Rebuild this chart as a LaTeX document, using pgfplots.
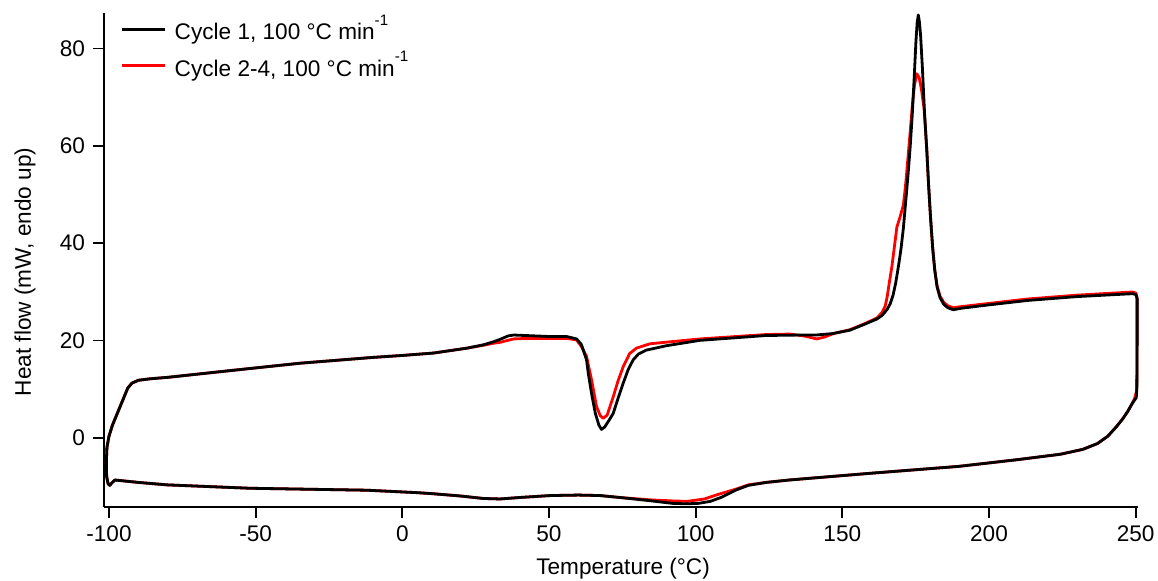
\documentclass[border=0pt]{standalone}
\usepackage{fontspec}
\setmainfont{Liberation Sans}
\usepackage{pgfplots}
\pgfplotsset{compat=1.18}
\newcommand{\supx}[1]{\raisebox{7.3pt}{\fontsize{7.6}{8}\selectfont #1}}
\begin{document}
\fontsize{11.3}{13.6}\selectfont
\begin{tikzpicture}[font=\fontsize{11.3}{13.6}\selectfont]
\useasboundingbox (-52pt,-37pt) rectangle (527pt,253.5pt);
\begin{axis}[
 at={(0,0)}, anchor=south west,
 scale only axis, width=517pt, height=247pt,
 xmin=-101.7, xmax=250.8, ymin=-14.25, ymax=87.3,
 clip=false,
 axis x line=bottom, axis y line=left,
 axis line style={-, line width=0.85pt},
 tick align=outside, major tick length=5.5pt,
 tick style={line width=0.85pt, black},
 xtick={-100,-50,0,50,100,150,200,250}, xticklabels={-100,-50,0,50,100,150,200,250},
 ytick={0,20,40,60,80}, yticklabels={0,20,40,60,80},
 minor tick num=0,
 xlabel={Temperature (°C)}, ylabel={Heat flow (mW, endo up)},
 xlabel style={at={(axis description cs:0.502,-0.125)}, anchor=center},
 ylabel style={at={(axis description cs:-0.0764,0.476)}, anchor=center},
 legend style={draw=none, fill=none, at={(axis description cs:0.016,1.003)}, anchor=north west, inner sep=0pt, row sep=1pt, column sep=2.5pt, nodes={inner sep=1.5pt}},
 legend cell align=left,
 legend image code/.code={\draw[#1, line width=1.4pt] (0pt,0pt) -- (21.5pt,0pt);},
]
% red: cycles 2-4
\addplot[red, line width=1.4pt, line join=round, forget plot] coordinates {
(-100.8,-8.0) (-100.9,-5) (-100.7,-2) (-100.0,0.3) (-98.8,2.6) (-96.2,6.4) (-93.6,10.2) (-92.2,11.2) (-90.0,11.8) (-86,12.1) (-80,12.4) (-60,13.7) (-35,15.3) (-10,16.5) (0,16.9) (10.7,17.4) (22,18.4) (27.7,19.0) (31,19.4) (33.3,19.6) (36,20.0) (38,20.3) (42,20.4) (50,20.4) (56,20.4) (59.4,20.1) (61.1,18.7) (62.8,16.7) (64.5,11.9) (66.2,6.4) (67.5,4.5) (68.5,4.0) (69.8,4.6) (71.9,8.4) (73.5,11.6) (75.3,14.6) (77.5,17.3) (79.8,18.4) (84.4,19.3) (101.4,20.3) (124,21.2) (132,21.3) (137,20.9) (141.3,20.3) (144,20.7) (147,21.4) (152.6,22.2) (157.5,23.4) (161.8,24.6) (163.5,25.7) (164.6,27.0) (165.3,29.0) (166.0,31.8) (166.9,35.2) (167.8,39.5) (168.6,43.3) (169.7,45.4) (170.8,47.8) (171.5,51.5) (172.3,57) (173.1,62.6) (173.9,68.5) (174.6,72.5) (175.4,74.8) (176.2,74.0) (177.0,71.5) (177.9,67.5) (178.8,59.2) (179.4,52) (180.1,45) (180.8,39) (181.5,34.5) (182.3,31.2) (183.3,29.1) (184.6,27.8) (186,27.1) (187.8,26.7) (190,26.9) (200,27.6) (213,28.5) (230,29.3) (249,29.95) (250.1,29.7) (250.5,28.8) (250.5,20) (250.4,11) (250.3,9.5) (249.6,8.0) (248.6,6.8) (247.3,5.4) (245.5,3.8) (243.5,2.3) (240.5,0.3) (237,-1.2) (232,-2.4) (224.4,-3.4) (210,-4.5) (189.7,-5.9) (160,-7.3) (131.9,-8.7) (124,-9.2) (118,-9.7) (113.6,-10.6) (108,-11.6) (103,-12.6) (97,-13.1) (92,-13.0) (85,-12.8) (74.2,-12.3) (67.4,-11.9) (60,-11.8) (50.4,-11.9) (40,-12.3) (33.3,-12.6) (27.6,-12.5) (20,-12.0) (10,-11.5) (4.9,-11.3) (-12.1,-10.8) (-51.9,-10.4) (-80.3,-9.7) (-90,-9.2) (-98.0,-8.7) (-99.2,-9.4) (-99.7,-9.8) (-100.3,-9.5) (-100.8,-8.0)
};
% black: cycle 1
\addplot[black, line width=1.4pt, line join=round, forget plot] coordinates {
(-100.8,-8.0) (-100.9,-5) (-100.7,-2) (-100.0,0.3) (-98.8,2.6) (-96.2,6.4) (-93.6,10.2) (-92.2,11.2) (-90.0,11.8) (-86,12.1) (-80,12.4) (-60,13.7) (-35,15.3) (-10,16.5) (0,16.9) (10.7,17.4) (22,18.4) (27.7,19.1) (31,19.7) (33.3,20.2) (36,20.9) (38,21.1) (42,21.0) (50,20.8) (56,20.8) (59.4,20.3) (61,19.2) (61.7,18.0) (62.8,16.0) (63.4,13.2) (64.5,9.1) (65.8,5.0) (67,2.6) (67.9,1.7) (69,2.2) (70.5,3.6) (71.9,5.0) (73.5,8.0) (75.3,11.2) (77,14.0) (78.7,16.0) (80.5,17.2) (83.2,18.0) (90,18.9) (101.4,20.0) (124,21.0) (135.4,21.1) (141,21.1) (146.7,21.4) (152.6,22.1) (157.5,23.3) (161.8,24.4) (163.5,25.1) (165.2,26.3) (166.3,27.5) (167.3,29.3) (168.2,31.8) (169.2,35.5) (170,38.8) (170.8,43) (171.6,48.5) (172.4,54) (173.1,59.5) (173.8,66) (174.5,74) (175.1,81.5) (175.5,85.2) (175.9,86.9) (176.3,85.4) (176.7,82.5) (177.3,76) (178,67) (178.8,59) (179.4,52) (180.1,45) (180.8,39) (181.5,34.5) (182.3,31) (183.3,28.8) (184.6,27.4) (186,26.7) (187.8,26.3) (190.5,26.6) (200,27.3) (213,28.2) (230,29.0) (249,29.6) (250.1,29.4) (250.5,28.5) (250.5,20) (250.4,10) (250.2,8.2) (249.6,7.7) (248.6,6.8) (247.3,5.4) (245.5,3.8) (243.5,2.3) (240.5,0.3) (237,-1.2) (232,-2.4) (224.4,-3.4) (210,-4.5) (189.7,-5.9) (160,-7.3) (131.9,-8.7) (124,-9.2) (118,-9.8) (113.6,-10.8) (109,-12.2) (105,-13.1) (101,-13.5) (97,-13.6) (92,-13.5) (85,-13.0) (74.2,-12.3) (67.4,-11.9) (60,-11.8) (50.4,-11.9) (40,-12.3) (33.3,-12.6) (27.6,-12.5) (20,-12.0) (10,-11.5) (4.9,-11.3) (-12.1,-10.8) (-51.9,-10.4) (-80.3,-9.7) (-90,-9.2) (-98.0,-8.7) (-99.2,-9.4) (-99.7,-9.8) (-100.3,-9.5) (-100.8,-8.0)
};
\addlegendimage{black, line width=1.4pt}
\addlegendentry{Cycle 1, 100 °C min\supx{-1}}
\addlegendimage{red, line width=1.4pt}
\addlegendentry{Cycle 2-4, 100 °C min\supx{-1}}
\end{axis}
\end{tikzpicture}
\end{document}
